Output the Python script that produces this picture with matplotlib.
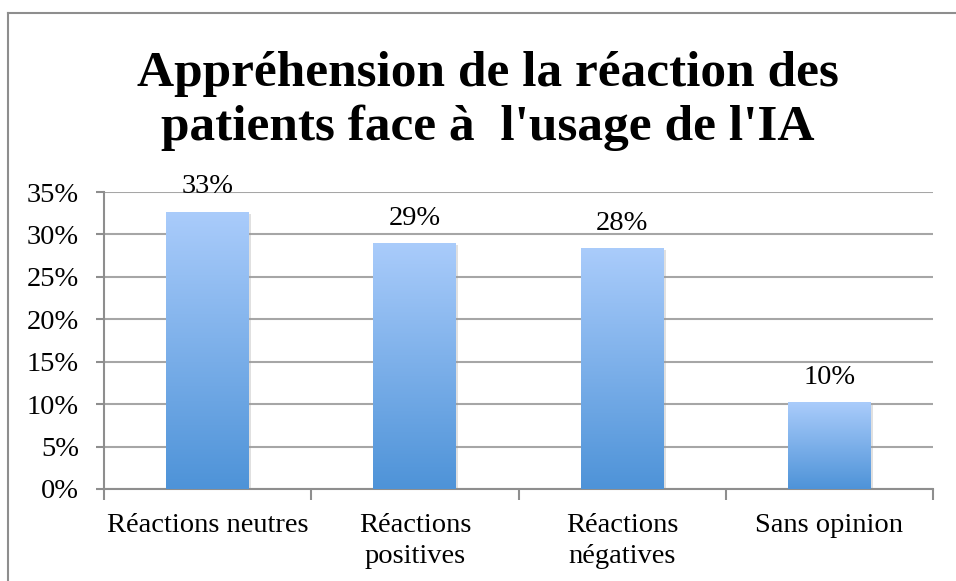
import numpy as np
import matplotlib
matplotlib.use("Agg")
import matplotlib.pyplot as plt
from matplotlib.lines import Line2D
from matplotlib.ticker import PercentFormatter
import matplotlib.patheffects as pe

# chart data
categories = ["Réactions neutres", "Réactions\npositives", "Réactions\nnégatives", "Sans opinion"]
values = [0.327, 0.290, 0.284, 0.102]
value_labels = ["33%", "29%", "28%", "10%"]
title_lines = ["Appréhension de la réaction des", "patients face à  l'usage de l'IA"]

W, H = 956, 581
serif = ["Liberation Serif", "DejaVu Serif"]
grey = "#8e8e8e"
fs = 20.5

fig = plt.figure(figsize=(W / 100, H / 100), dpi=100)
fig.patch.set_facecolor("white")

# axes placed to match the plot area
ax = fig.add_axes([104 / W, (H - 489) / H, (933 - 104) / W, (489 - 192) / H])
ax.set_facecolor("white")

x = np.arange(len(categories))
bars = ax.bar(x, values, width=0.4, color="#4f93d8", zorder=2,
              path_effects=[pe.SimplePatchShadow(offset=(1.5, -1.5), shadow_rgbFace="#999999", alpha=0.3),
                            pe.Normal()])

# vertical gradient fill, light on top
top_c = np.array([170, 204, 251]) / 255
bot_c = np.array([78, 147, 216]) / 255
t = np.linspace(0, 1, 256)[:, None]
grad = (top_c * (1 - t) + bot_c * t).reshape(256, 1, 3)
for b in bars:
    im = ax.imshow(grad, extent=[b.get_x(), b.get_x() + b.get_width(), 0, b.get_height()],
                   aspect="auto", zorder=3, interpolation="bilinear")
    im.set_clip_path(b)

for xi, v, lab in zip(x, values, value_labels):
    ax.annotate(lab, (xi, v), xytext=(0, 13), textcoords="offset points",
                ha="center", va="baseline", fontsize=fs, family=serif)

ax.set_xlim(-0.5, len(categories) - 0.5)
ax.set_ylim(0, 0.35)
ax.set_yticks(np.arange(0, 0.351, 0.05))
ax.yaxis.set_major_formatter(PercentFormatter(1.0, decimals=0))
ax.yaxis.grid(True, color="#a6a6a6", linewidth=1.5, zorder=0)
ax.set_axisbelow(True)

ax.set_xticks(x)
ax.set_xticklabels(categories, family=serif, fontsize=fs, linespacing=1.35)
ax.set_xticks(np.arange(-0.5, len(categories), 1), minor=True)
ax.tick_params(axis="x", which="major", length=0, pad=17)
ax.tick_params(axis="x", which="minor", length=8, width=1.5, color=grey)
ax.tick_params(axis="y", length=6, width=1.5, color=grey, pad=12, labelsize=fs)
for lab in ax.get_yticklabels():
    lab.set_family(serif)

for s in ["top", "right"]:
    ax.spines[s].set_visible(False)
for s in ["left", "bottom"]:
    ax.spines[s].set_color(grey)
    ax.spines[s].set_linewidth(1.5)

# title, two lines
fig.text(488 / W, 1 - 86 / H, title_lines[0], ha="center", va="baseline",
         fontsize=37, fontweight="bold", family=serif)
fig.text(488 / W, 1 - 140 / H, title_lines[1], ha="center", va="baseline",
         fontsize=37, fontweight="bold", family=serif)

# chart area border (left and top visible)
fig.add_artist(Line2D([8 / W, 8 / W], [0, 1 - 13 / H], color=grey, linewidth=1.5))
fig.add_artist(Line2D([8 / W, 1], [1 - 13 / H, 1 - 13 / H], color=grey, linewidth=1.5))

fig.savefig("out.png", dpi=100, facecolor="white")
